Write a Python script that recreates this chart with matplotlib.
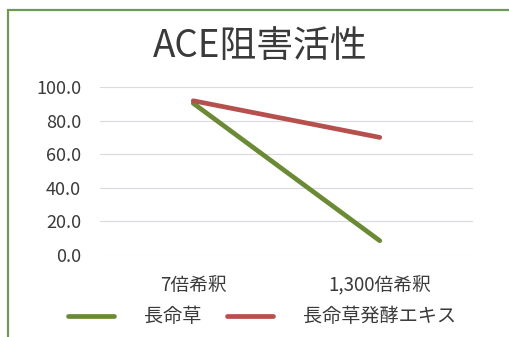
import matplotlib.pyplot as plt
from matplotlib.patches import Rectangle

plt.rcParams['font.family'] = ['Noto Sans CJK JP', 'DejaVu Sans']

categories = ['7倍希釈', '1,300倍希釈']
chomeiso = [90.3, 8.5]
hakko = [91.8, 70.0]
series_names = ['長命草', '長命草発酵エキス']

W, H = 509, 337
fig = plt.figure(figsize=(W/100, H/100), dpi=100)
ax = fig.add_axes([100/W, 1 - 255/H, 373/W, 168/H])

x = [0, 1]
ax.plot(x, chomeiso, color='#6b8a35', lw=3.4, solid_capstyle='round', label=series_names[0])
ax.plot(x, hakko, color='#b5504d', lw=3.4, solid_capstyle='round', label=series_names[1])

ax.set_xlim(-0.5, 1.5)
ax.set_ylim(0, 100)
ax.set_yticks([0, 20, 40, 60, 80, 100])
ax.set_yticklabels([f'{v:.1f}' for v in [0, 20, 40, 60, 80, 100]])
ax.set_xticks(x)
ax.set_xticklabels(categories)
ax.tick_params(axis='y', length=0, labelsize=13, colors='#3a3a3a', pad=13.5)
ax.tick_params(axis='x', length=0, labelsize=13.5, colors='#3a3a3a', pad=14.5)
ax.grid(axis='y', color='#d9d9e0', lw=0.8)
for s in ax.spines.values():
    s.set_visible(False)
ax.set_axisbelow(True)

fig.text(260/W, 1 - 47/H, 'ACE阻害活性', ha='center', va='center', fontsize=26.5, color='#3a3a3a')

fig.legend(loc='center', bbox_to_anchor=(262/W, 1 - 317/H), ncol=2, frameon=False,
           fontsize=13.8, handlelength=2.4, columnspacing=1.3, handletextpad=1.6,
           labelcolor='#3a3a3a')

fig.add_artist(Rectangle((8/W, -0.1), 1.1, 1 - 10/H + 0.1, transform=fig.transFigure,
                         fill=False, edgecolor='#6f9a55', lw=1.6))

fig.savefig('out.png', dpi=100)
